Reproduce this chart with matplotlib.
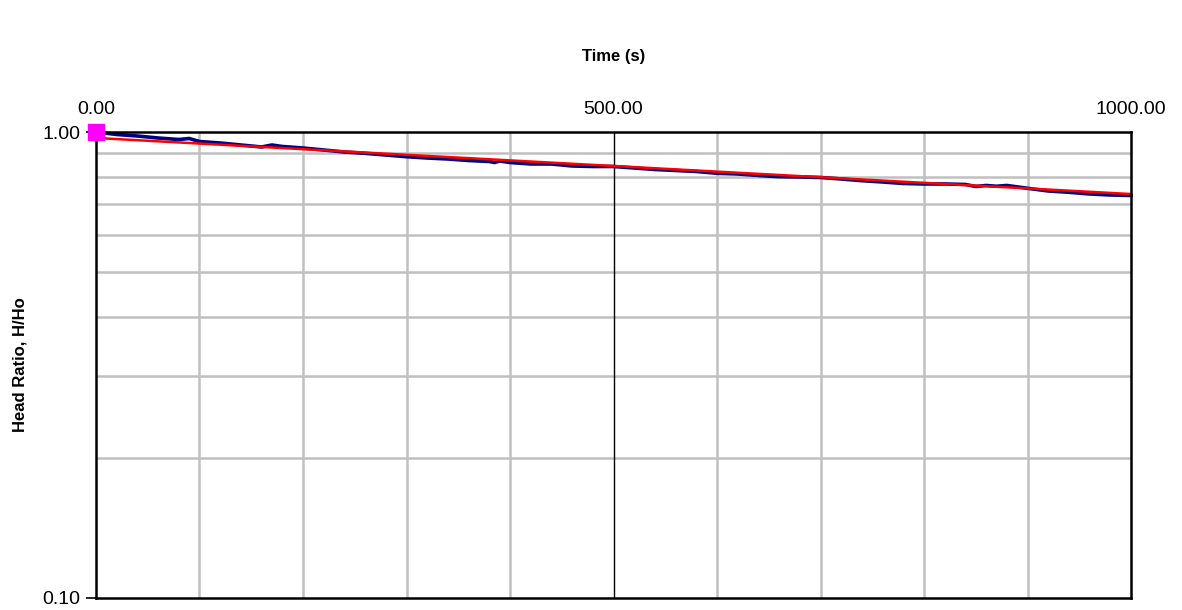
import matplotlib
matplotlib.use("Agg")
import matplotlib.pyplot as plt
from matplotlib.ticker import FixedLocator, NullFormatter, FormatStrFormatter

# Measured head ratio vs. time
time_s = [0, 20, 40, 60, 80, 90, 100, 120, 140, 160, 170, 180, 200, 220, 240,
          260, 280, 300, 320, 340, 360, 380, 385, 390, 400, 420, 440, 460, 480,
          500, 520, 540, 560, 580, 600, 620, 640, 660, 680, 700, 720, 740, 760,
          780, 800, 820, 840, 850, 860, 870, 880, 900, 920, 940, 960, 980, 1000]
head_ratio = [1.000, 0.9878, 0.9804, 0.9708, 0.9636, 0.9684, 0.9541, 0.9471,
              0.9378, 0.9286, 0.9378, 0.9309, 0.9240, 0.9149, 0.9059, 0.9000,
              0.8925, 0.8851, 0.8794, 0.8751, 0.8686, 0.8644, 0.8601, 0.8665,
              0.8601, 0.8538, 0.8538, 0.8454, 0.8433, 0.8433, 0.8371, 0.8309,
              0.8268, 0.8228, 0.8155, 0.8127, 0.8067, 0.8019, 0.8007, 0.7987,
              0.7928, 0.7862, 0.7812, 0.7754, 0.7735, 0.7735, 0.7716, 0.7640,
              0.7678, 0.7648, 0.7678, 0.7572, 0.7472, 0.7424, 0.7362, 0.7326,
              0.7308]

# Straight-line fit on the semi-log plot
fit_time = [0, 1000]
fit_ratio = [0.971, 0.736]

# Initial normalised head
start_time = [0]
start_ratio = [1.0]

x_ticks = [0, 500, 1000]
x_minor = [100, 200, 300, 400, 600, 700, 800, 900]
y_ticks = [0.1, 1.0]
y_minor = [0.2, 0.3, 0.4, 0.5, 0.6, 0.7, 0.8, 0.9]

plt.rcParams['font.family'] = ['Liberation Sans', 'DejaVu Sans']

fig = plt.figure(figsize=(11.82, 6.10), dpi=100)
ax = fig.add_axes([0.0812, 0.0197, 0.8757, 0.7639])

ax.set_yscale('log')
ax.set_xlim(0, 1000)
ax.set_ylim(0.1, 1.0)

# Grid
for xv in x_minor:
    ax.axvline(xv, color='#c0c0c0', lw=1.8, zorder=1)
for yv in y_minor:
    ax.axhline(yv, color='#c0c0c0', lw=1.8, zorder=1)
ax.axvline(500, color='black', lw=1.0, zorder=1)

ax.plot(time_s, head_ratio, color='#000080', lw=2.6, zorder=3, clip_on=False)
ax.plot(fit_time, fit_ratio, color='#ff0000', lw=1.8, zorder=4, clip_on=False)
ax.plot(start_time, start_ratio, marker='s', ms=11, color='#ff00ff',
        ls='none', zorder=7, clip_on=False)

ax.xaxis.tick_top()
ax.xaxis.set_label_position('top')
ax.xaxis.set_major_locator(FixedLocator(x_ticks))
ax.xaxis.set_major_formatter(FormatStrFormatter('%.2f'))
ax.xaxis.set_minor_locator(FixedLocator([]))
ax.yaxis.set_major_locator(FixedLocator(y_ticks))
ax.yaxis.set_major_formatter(FormatStrFormatter('%.2f'))
ax.yaxis.set_minor_locator(FixedLocator([]))
ax.yaxis.set_minor_formatter(NullFormatter())

ax.tick_params(axis='x', which='major', length=0, pad=10, labelsize=14)
ax.tick_params(axis='y', which='major', length=7, width=1.2, pad=4,
               labelsize=14, direction='out')

for sp in ax.spines.values():
    sp.set_color('black')
    sp.set_linewidth(1.8)
    sp.set_zorder(6)

ax.set_xlabel('Time (s)', fontsize=12, fontweight='bold', labelpad=29)
ax.set_ylabel('Head Ratio, H/Ho', fontsize=12, fontweight='bold', va='center')
ax.yaxis.set_label_coords(-0.073, 0.5)

fig.savefig('out.png', dpi=100)
